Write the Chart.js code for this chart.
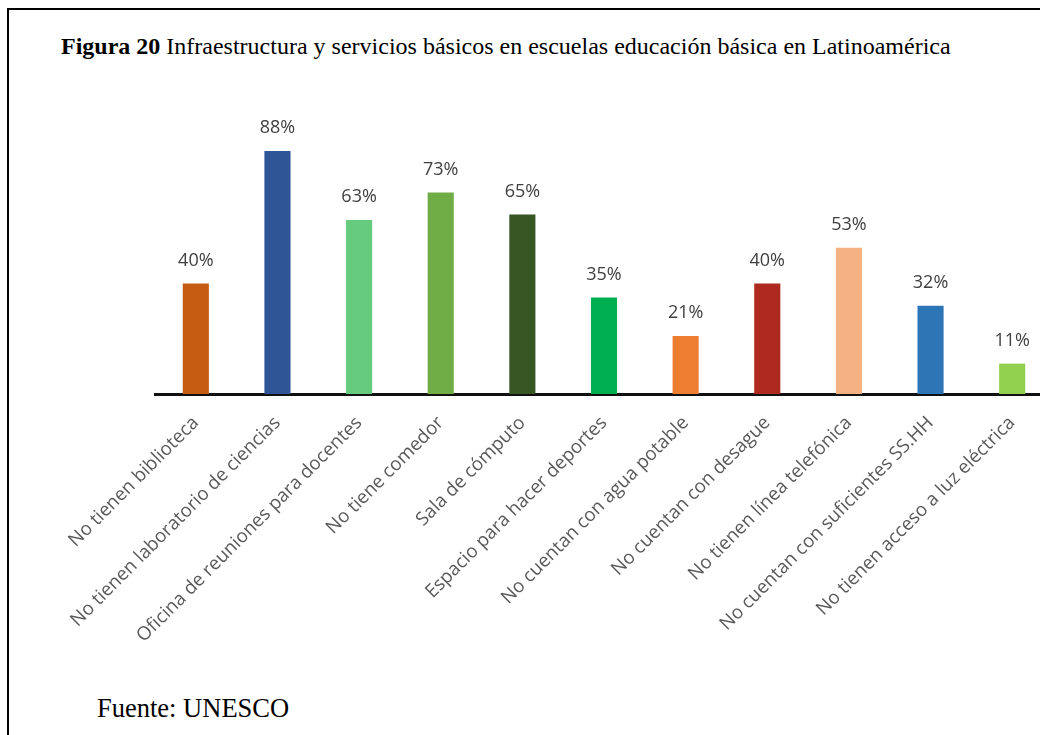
<!DOCTYPE html>
<html>
<head>
<meta charset="utf-8">
<script src="https://cdn.jsdelivr.net/npm/chart.js@4/dist/chart.umd.min.js"></script>
<style>
  html, body { margin: 0; padding: 0; background: #fff; overflow: hidden; }
  body { width: 1040px; height: 735px; position: relative; }
  .marco { position: absolute; left: 7px; top: 8px; width: 1100px; height: 800px; border: 2px solid #000; }
  .titulo, .fuente { position: absolute; font-family: "Liberation Serif", "Times New Roman", serif; color: #000; white-space: nowrap; line-height: 1; }
  .titulo { left: 61px; top: 34px; font-size: 24px; }
  .fuente { left: 97px; top: 695px; font-size: 26.5px; }
  #grafico { position: absolute; left: 0; top: 0; }
</style>
</head>
<body>
<div class="marco"></div>
<div class="titulo"><b>Figura 20</b> Infraestructura y servicios básicos en escuelas educación básica en Latinoamérica</div>
<div class="fuente">Fuente: UNESCO</div>
<canvas id="grafico" width="1075" height="735"></canvas>
<script>
const categorias = [
    'No tienen biblioteca',
    'No tienen laboratorio de ciencias',
    'Oficina de reuniones para docentes',
    'No tiene comedor',
    'Sala de cómputo',
    'Espacio para hacer deportes',
    'No cuentan con agua potable',
    'No cuentan con desague',
    'No tienen línea telefónica',
    'No cuentan con suficientes SS.HH',
    'No tienen acceso a luz eléctrica'
];
const porcentajes = [40, 88, 63, 73, 65, 35, 21, 40, 53, 32, 11];
const colores = ['#C55A11', '#2F5597', '#66CB7E', '#70AD47', '#375623', '#00B050',
    '#ED7D31', '#AE2A1E', '#F4B183', '#2E75B6', '#92D050'];

// writes "NN%" above every bar
const etiquetas = {
    id: 'etiquetas',
    afterDatasetsDraw(chart) {
        const ctx = chart.ctx;
        const meta = chart.getDatasetMeta(0);
        ctx.save();
        ctx.font = '18px "Open Sans"';
        ctx.fillStyle = '#404040';
        ctx.textAlign = 'center';
        ctx.textBaseline = 'middle';
        meta.data.forEach(function (bar, i) {
            ctx.fillText(porcentajes[i] + '%', bar.x, bar.y - 23);
        });
        ctx.restore();
    }
};

new Chart(document.getElementById('grafico'), {
    type: 'bar',
    data: {
        labels: categorias,
        datasets: [{
            data: porcentajes,
            backgroundColor: colores,
            borderWidth: 0,
            categoryPercentage: 1,
            barPercentage: 0.32
        }]
    },
    options: {
        responsive: false,
        animation: false,
        layout: { padding: { left: 155, right: 22, top: 118, bottom: 0 } },
        plugins: { legend: { display: false }, tooltip: { enabled: false } },
        scales: {
            x: {
                grid: { display: false, drawTicks: false },
                border: { display: true, color: '#111', width: 3 },
                ticks: {
                    autoSkip: false,
                    maxRotation: 45,
                    minRotation: 45,
                    padding: 18,
                    color: '#595959',
                    font: { family: 'Open Sans', size: 18.7 }
                },
                afterFit: function (scale) { scale.height = 341; }
            },
            y: {
                display: false,
                min: 0,
                max: 100
            }
        }
    },
    plugins: [etiquetas]
});
</script>
</body>
</html>
